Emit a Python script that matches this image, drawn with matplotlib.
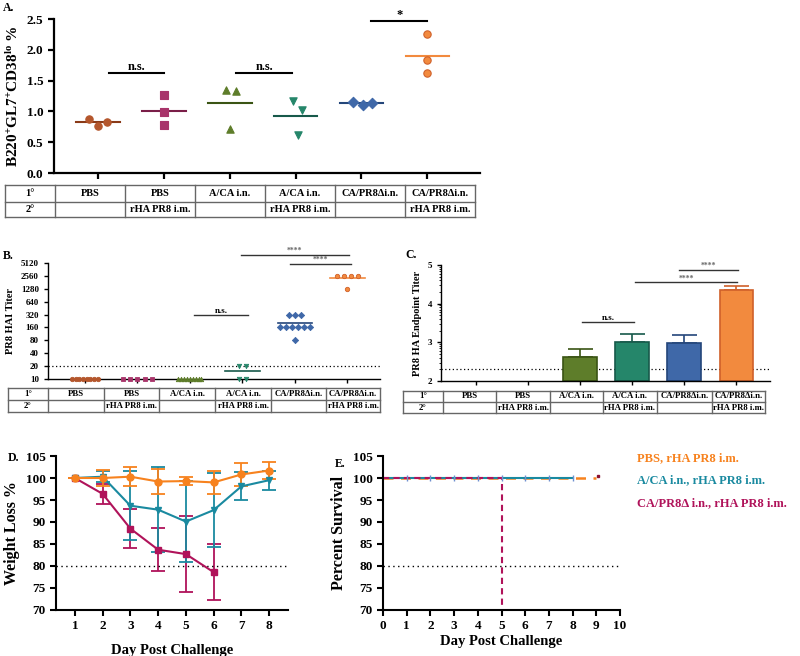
import numpy as np
import matplotlib.pyplot as plt

plt.rcParams['font.family'] = ['Liberation Serif', 'DejaVu Serif']
plt.rcParams['font.weight'] = 'bold'
plt.rcParams['axes.labelweight'] = 'bold'
plt.rcParams['mathtext.fontset'] = 'custom'
plt.rcParams['mathtext.rm'] = 'Liberation Serif:bold'
plt.rcParams['mathtext.it'] = 'Liberation Serif:bold'
plt.rcParams['mathtext.bf'] = 'Liberation Serif:bold'

# ---- data ----
row1 = ['1°', 'PBS', 'PBS', 'A/CA i.n.', 'A/CA i.n.', 'CA/PR8Δi.n.', 'CA/PR8Δi.n.']
row2 = ['2°', '', 'rHA PR8 i.m.', '', 'rHA PR8 i.m.', '', 'rHA PR8 i.m.']

# A: germinal centre B cells (%)
gc_pct = [[0.88, 0.77, 0.82], [1.27, 0.99, 0.78], [1.35, 1.33, 0.71],
          [1.17, 1.02, 0.62], [1.16, 1.11, 1.14], [2.26, 1.83, 1.63]]
gc_line = [0.82, 1.01, 1.13, 0.92, 1.13, 1.90]

# B: HAI titer
hai = [[10] * 8, [10] * 5, [10] * 9, [20, 20, 10, 10],
       [320] * 3 + [160] * 6 + [80], [2560] * 4 + [1280]]
hai_line = [10, 10, 10, 15, 200, 2300]
hai_ticks = [10, 20, 40, 80, 160, 320, 640, 1280, 2560, 5120]

# C: HA endpoint titer (log10)
ha_end = [None, None, 2.63, 3.02, 2.98, 4.35]
ha_sem = [None, None, 0.21, 0.20, 0.22, 0.11]

# D: weight
days = [1, 2, 3, 4, 5, 6, 7, 8]
wt_pbs = [100, 100, 100.3, 99.2, 99.3, 99.0, 100.8, 101.7]
wt_pbs_err = [0, 1.8, 2.1, 2.8, 0.9, 2.7, 2.6, 2.0]
wt_aca = [100, 100.3, 93.7, 92.8, 90.1, 92.7, 98.1, 99.5]
wt_aca_err = [0, 1.3, 7.9, 9.7, 9.3, 8.4, 3.2, 2.2]
wt_del = [100, 96.4, 88.5, 83.7, 82.7, 78.6]
wt_del_err = [0, 2.3, 4.5, 4.9, 8.7, 6.4]

# E: survival
sv_pbs_t, sv_pbs = [0, 9], [100, 100]
sv_aca_t, sv_aca = [0, 8], [100, 100]
sv_del_t, sv_del = [0, 5, 5, 7], [100, 100, 0, 0]
censor_days = [1, 2, 3, 4, 5, 6, 7, 8]

legend_lbl = ['PBS, rHA PR8 i.m.', 'A/CA i.n., rHA PR8 i.m.', 'CA/PR8Δ i.n., rHA PR8 i.m.']

# ---- styles ----
grp_col = ['#B4562C', '#A8346A', '#5E7D2A', '#25866A', '#3F68A8', '#F28A3E']
grp_edge = ['#8A3A18', '#7A1E48', '#3A5414', '#17594A', '#24467A', '#D0602A']
grp_mk = ['o', 's', '^', 'v', 'D', 'o']
gc_dx = [[-0.14, 0, 0.14], [0, 0, 0], [-0.06, 0.1, 0.01],
         [-0.04, 0.1, 0.03], [-0.13, 0.03, 0.16], [0, 0, 0]]
hai_step = [0.07, 0.14, 0.055, 0.13, 0.115, 0.13]
c_or, c_te, c_ma = '#F7821E', '#1A8AA0', '#B0135A'

W, H = 800, 656
fig = plt.figure(figsize=(W / 100, H / 100), dpi=100)


def px_rect(l, t, r, b):
    return [l / W, 1 - b / H, (r - l) / W, (b - t) / H]


ov = fig.add_axes([0, 0, 1, 1])
ov.set_xlim(0, W)
ov.set_ylim(H, 0)
ov.axis('off')


def draw_table(edges, rows_y, fs):
    for x in edges:
        ov.plot([x, x], [rows_y[0], rows_y[2]], color='#666666', lw=1)
    for y in rows_y:
        ov.plot([edges[0], edges[-1]], [y, y], color='#666666', lw=1)
    for i in range(len(edges) - 1):
        cx = (edges[i] + edges[i + 1]) / 2
        ov.text(cx, (rows_y[0] + rows_y[1]) / 2, row1[i], ha='center', va='center', fontsize=fs)
        ov.text(cx, (rows_y[1] + rows_y[2]) / 2, row2[i], ha='center', va='center', fontsize=fs)


def style_ax(ax, lw):
    for s in ['top', 'right']:
        ax.spines[s].set_visible(False)
    for s in ['left', 'bottom']:
        ax.spines[s].set_linewidth(lw)
    ax.tick_params(width=lw, length=4, direction='out')


def sig_bar(ax, x0, x1, y, txt, fs, col='black', tcol='black', lw=1.5):
    ax.plot([x0, x1], [y, y], color=col, lw=lw, clip_on=False)
    ax.text((x0 + x1) / 2, y, txt, ha='center', va='bottom', fontsize=fs, color=tcol)


cats = np.arange(6)

# ---- Panel A ----
axA = fig.add_axes(px_rect(54, 19, 480, 173))
style_ax(axA, 1.6)
for i in cats:
    xs = i + np.array(gc_dx[i])
    axA.scatter(xs, gc_pct[i], marker=grp_mk[i], s=28, color=grp_col[i],
                edgecolors=grp_edge[i] if i == 5 else grp_col[i], linewidths=0.8, zorder=3)
    axA.plot([i - 0.33, i + 0.33], [gc_line[i]] * 2, color=grp_edge[i] if i < 5 else grp_col[i], lw=1.5)
axA.set_xlim(-0.67, 5.8)
axA.set_ylim(0, 2.5)
axA.set_yticks(np.arange(0, 2.51, 0.5))
axA.set_yticklabels([f'{v:.1f}' for v in np.arange(0, 2.51, 0.5)], fontsize=9.5)
axA.set_xticks(cats)
axA.set_xticklabels([])
axA.set_ylabel('B220$^{+}$GL7$^{+}$CD38$^{lo}$ %', fontsize=11)
sig_bar(axA, 0.17, 1.0, 1.62, 'n.s.', 9)
sig_bar(axA, 2.1, 2.95, 1.62, 'n.s.', 9)
sig_bar(axA, 4.15, 5.0, 2.47, '*', 9)
draw_table([5, 55, 125, 195, 265, 335, 405, 475], [185, 202, 217], 7.5)

# ---- Panel B ----
axB = fig.add_axes(px_rect(48, 263, 380, 379))
style_ax(axB, 1.0)


def spread(vals, step):
    vals = np.asarray(vals)
    dx = np.zeros(len(vals))
    for v in np.unique(vals):
        idx = np.where(vals == v)[0]
        dx[idx] = (np.arange(len(idx)) - (len(idx) - 1) / 2) * step
    return dx


axB.set_yscale('log', base=2)
for i in cats:
    xs = i + spread(hai[i], hai_step[i])
    axB.scatter(xs, hai[i], marker=grp_mk[i], s=10, color=grp_col[i],
                edgecolors=grp_edge[i] if i == 5 else grp_col[i], linewidths=0.6,
                zorder=3, clip_on=False)
    if i >= 3:
        axB.plot([i - 0.33, i + 0.33], [hai_line[i]] * 2,
                 color=grp_edge[i] if i < 5 else grp_col[i], lw=1.2)
axB.axhline(20, color='black', ls=(0, (1, 2)), lw=0.9)
axB.set_xlim(-0.7, 5.62)
axB.set_ylim(10, 5120)
axB.yaxis.set_major_locator(plt.FixedLocator(hai_ticks))
axB.yaxis.set_minor_locator(plt.NullLocator())
axB.set_yticklabels([str(v) for v in hai_ticks], fontsize=6.5)
axB.set_xticks(cats)
axB.set_xticklabels([])
axB.tick_params(length=3)
axB.set_ylabel('PR8 HAI Titer', fontsize=7.5)
sig_bar(axB, 2.08, 3.1, 320, 'n.s.', 6.5, col='#333333', lw=1.0)
sig_bar(axB, 2.97, 5.03, 7800, '****', 5.5, col='#333333', tcol='#666666', lw=1.0)
sig_bar(axB, 3.9, 5.07, 4980, '****', 5.5, col='#333333', tcol='#666666', lw=1.0)
draw_table([8, 48, 104, 159, 215, 271, 326, 380], [388, 400, 412], 6.3)

# ---- Panel C ----
axC = fig.add_axes(px_rect(441, 265, 770, 381))
style_ax(axC, 1.0)
for i in cats:
    if ha_end[i] is None:
        continue
    axC.bar(i, ha_end[i] - 2, bottom=2, width=0.64, color=grp_col[i],
            edgecolor=grp_edge[i], lw=1.2, zorder=2)
    axC.errorbar(i, ha_end[i], yerr=[[0], [ha_sem[i]]], color=grp_edge[i],
                 capsize=9, elinewidth=1.2, capthick=1.2, zorder=1)
axC.axhline(2.3, color='black', ls=(0, (1, 2)), lw=0.9, zorder=0)
axC.set_xlim(-0.67, 5.65)
axC.set_ylim(2, 5)
axC.set_yticks([2, 3, 4, 5])
axC.set_yticklabels(['2', '3', '4', '5'], fontsize=6.5)
minor = [d + np.log10(k) for d in [2, 3, 4] for k in range(2, 10)]
axC.set_yticks(minor, minor=True)
axC.tick_params(axis='y', which='minor', length=1.5, width=0.6)
axC.set_xticks(cats)
axC.set_xticklabels([])
axC.tick_params(axis='both', which='major', length=3)
axC.set_ylabel('PR8 HA Endpoint Titer', fontsize=7.5)
sig_bar(axC, 2.04, 3.04, 3.53, 'n.s.', 6.5, col='#333333', lw=1.0)
sig_bar(axC, 3.06, 5.02, 4.55, '****', 5.5, col='#333333', tcol='#666666', lw=1.0)
sig_bar(axC, 3.9, 5.04, 4.87, '****', 5.5, col='#333333', tcol='#666666', lw=1.0)
draw_table([403, 443, 496, 550, 603, 657, 712, 765], [391, 402, 413], 6.3)

# ---- Panel D ----
axD = fig.add_axes(px_rect(56, 456, 288, 610))
style_ax(axD, 1.5)
axD.errorbar(days[:len(wt_del)], wt_del, yerr=wt_del_err, color=c_ma, marker='s', ms=4.5,
             lw=1.5, capsize=5, elinewidth=1.3, capthick=1.3)
axD.errorbar(days, wt_aca, yerr=wt_aca_err, color=c_te, marker='v', ms=4.5,
             lw=1.5, capsize=5, elinewidth=1.3, capthick=1.3)
axD.errorbar(days, wt_pbs, yerr=wt_pbs_err, color=c_or, marker='o', ms=5,
             lw=1.5, capsize=5, elinewidth=1.3, capthick=1.3)
axD.axhline(80, color='black', ls=(0, (1, 2.5)), lw=1.0)
axD.set_xlim(0.32, 8.68)
axD.set_ylim(70, 105)
axD.set_xticks(days)
axD.set_yticks(np.arange(70, 106, 5))
axD.tick_params(labelsize=9.5)
axD.set_xlabel('Day Post Challenge', fontsize=10.5, labelpad=8)
axD.set_ylabel('Weight Loss %', fontsize=11.5)

# ---- Panel E ----
axE = fig.add_axes(px_rect(383, 456, 620, 610))
style_ax(axE, 1.5)
axE.plot(sv_pbs_t, sv_pbs, color=c_or, lw=1.8, ls=(0, (4, 3)))
axE.plot(sv_aca_t, sv_aca, color=c_te, lw=1.5)
axE.plot(sv_del_t, sv_del, color=c_ma, lw=1.5, ls=(0, (3, 2)))
axE.plot(censor_days, [100] * len(censor_days), ls='none', marker='|', ms=4,
         mew=1.0, color='#7090D0')
axE.plot([9.07], [100.4], ls='none', marker='s', ms=2, color='#8A1030', clip_on=False)
axE.axhline(80, color='black', ls=(0, (1, 2.5)), lw=1.0)
axE.set_xlim(0, 10)
axE.set_ylim(70, 105)
axE.set_xticks(range(0, 11))
axE.set_yticks(np.arange(70, 106, 5))
axE.tick_params(labelsize=9.5)
axE.set_xlabel('Day Post Challenge', fontsize=10.5, labelpad=2)
axE.set_ylabel('Percent Survival', fontsize=11.5)

for lbl, col, y in zip(legend_lbl, [c_or, c_te, c_ma], [458, 480, 503]):
    ov.text(637, y, lbl, color=col, fontsize=9, va='center', ha='left')

# panel letters
for letter, x, y in [('A.', 3, 8), ('B.', 3, 256), ('C.', 405, 255), ('D.', 8, 458), ('E.', 335, 464)]:
    ov.text(x, y, letter, fontsize=8.5, va='center', ha='left')

fig.savefig('out.png', dpi=100)
